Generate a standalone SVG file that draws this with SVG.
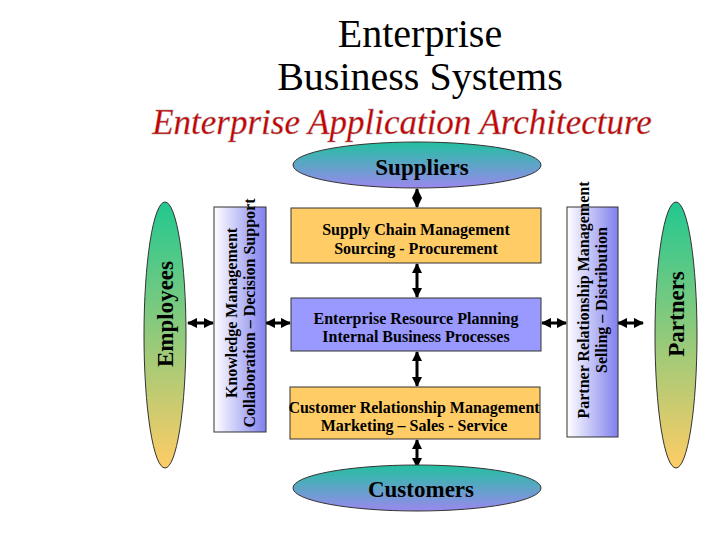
<svg xmlns="http://www.w3.org/2000/svg" width="720" height="540" viewBox="0 0 720 540">
<defs>
<linearGradient id="gh" x1="0" y1="0" x2="0" y2="1"><stop offset="0" stop-color="#22c0a0"/><stop offset="1" stop-color="#9a88ee"/></linearGradient>
<linearGradient id="gv" x1="0" y1="0" x2="0" y2="1"><stop offset="0" stop-color="#22c890"/><stop offset="1" stop-color="#ffcc66"/></linearGradient>
<linearGradient id="gb" x1="0" y1="0" x2="1" y2="0"><stop offset="0" stop-color="#ffffff"/><stop offset="1" stop-color="#8080ee"/></linearGradient>
<marker id="a" viewBox="0 0 10 10" refX="9" refY="5" markerWidth="3.5" markerHeight="3.5" orient="auto-start-reverse"><path d="M0,0L10,5L0,10z" fill="#000"/></marker>
<style>
.t{font-family:"Liberation Serif",serif;font-weight:bold;fill:#000;text-anchor:middle}
.c{stroke:#000;stroke-width:3;fill:none;marker-start:url(#a);marker-end:url(#a)}
.o{stroke:#333;stroke-width:1}
</style>
</defs>
<rect width="720" height="540" fill="#fff"/>
<g style="font-family:'Liberation Serif',serif" text-anchor="middle">
<text x="420" y="47" font-size="40">Enterprise</text>
<text x="420" y="90" font-size="40">Business Systems</text>
<text x="402" y="134" font-size="35" font-style="italic" fill="#cc0000" stroke="#999" stroke-width="0.4">Enterprise Application Architecture</text>
</g>
<g id="connectors">
<line class="c" x1="417" y1="189" x2="417" y2="207"/>
<line class="c" x1="417" y1="264" x2="417" y2="297"/>
<line class="c" x1="417" y1="352" x2="417" y2="386"/>
<line class="c" x1="417" y1="440" x2="417" y2="467"/>
<line class="c" x1="188" y1="323" x2="213" y2="323"/>
<line class="c" x1="266" y1="323" x2="290" y2="323"/>
<line class="c" x1="542" y1="323" x2="566" y2="323"/>
<line class="c" x1="618" y1="323" x2="643" y2="323"/>
</g>
<g id="suppliers"><ellipse class="o" cx="417" cy="165" rx="124" ry="23" fill="url(#gh)"/><text class="t" x="422" y="175" font-size="23">Suppliers</text></g>
<g id="customers"><ellipse class="o" cx="417" cy="488" rx="124" ry="23" fill="url(#gh)"/><text class="t" x="421" y="497" font-size="23">Customers</text></g>
<g id="scm"><rect class="o" x="291" y="208" width="250" height="55" fill="#ffcc66"/><text class="t" x="416" y="235" font-size="16">Supply Chain Management</text><text class="t" x="416" y="254" font-size="16">Sourcing - Procurement</text></g>
<g id="erp"><rect class="o" x="291" y="298" width="250" height="53" fill="#9999ff"/><text class="t" x="416" y="324" font-size="16">Enterprise Resource Planning</text><text class="t" x="416" y="342" font-size="16">Internal Business Processes</text></g>
<g id="crm"><rect class="o" x="290" y="387" width="250" height="52" fill="#ffcc66"/><text class="t" x="414" y="413" font-size="16">Customer Relationship Management</text><text class="t" x="414" y="431" font-size="16">Marketing – Sales - Service</text></g>
<g id="employees"><ellipse class="o" cx="165" cy="335" rx="21" ry="133" fill="url(#gv)"/><text class="t" transform="translate(173,314) rotate(-90)" font-size="23">Employees</text></g>
<g id="partners"><ellipse class="o" cx="676" cy="335" rx="21" ry="133" fill="url(#gv)"/><text class="t" transform="translate(684,314) rotate(-90)" font-size="23">Partners</text></g>
<g id="km"><rect class="o" x="214" y="207" width="52" height="225" fill="url(#gb)"/><text class="t" transform="translate(240,313) rotate(-90)" font-size="16"><tspan x="0" y="-3">Knowledge Management</tspan><tspan x="0" y="15">Collaboration – Decision Support</tspan></text></g>
<g id="prm"><rect class="o" x="567" y="207" width="51" height="230" fill="url(#gb)"/><text class="t" transform="translate(592,300) rotate(-90)" font-size="16"><tspan x="0" y="-3">Partner Relationship Management</tspan><tspan x="0" y="15">Selling – Distribution</tspan></text></g>
</svg>
